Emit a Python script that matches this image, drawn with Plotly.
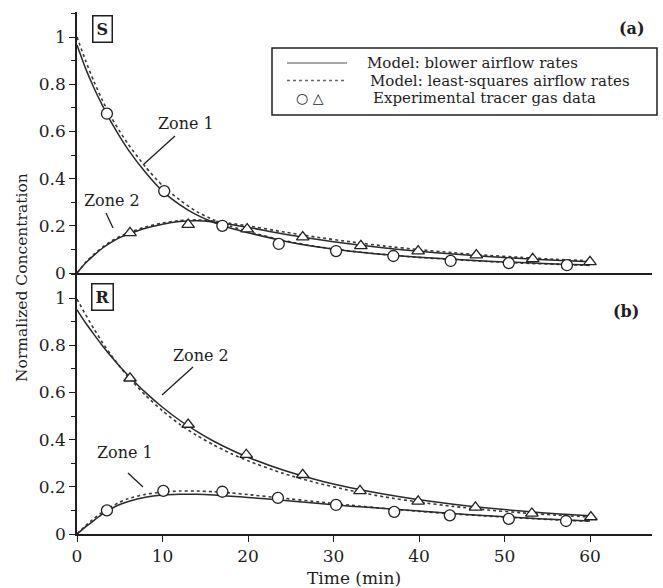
import plotly.graph_objects as go

# ---------------- data ----------------
t_model = [0, 1, 2, 3, 4, 5, 6, 8, 10, 12, 14, 16, 18, 20, 24, 28, 32, 36, 40, 44, 48, 52, 56, 60]

# Panel (a) "S"
a_zone1_blower = [0.966, 0.867, 0.783, 0.708, 0.639, 0.578, 0.522, 0.427, 0.347, 0.29, 0.246, 0.214, 0.19, 0.171,
                  0.137, 0.111, 0.092, 0.078, 0.067, 0.058, 0.05, 0.044, 0.038, 0.034]
a_zone1_lsq = [1.0, 0.9, 0.81, 0.73, 0.66, 0.6, 0.545, 0.45, 0.37, 0.31, 0.26, 0.225, 0.198, 0.176,
               0.139, 0.112, 0.093, 0.078, 0.066, 0.057, 0.049, 0.042, 0.037, 0.032]
a_zone2_blower = [0.0, 0.042, 0.076, 0.106, 0.13, 0.15, 0.165, 0.19, 0.207, 0.218, 0.221, 0.216, 0.206, 0.194,
                  0.166, 0.143, 0.123, 0.106, 0.092, 0.08, 0.07, 0.061, 0.054, 0.048]
a_zone2_lsq = [0.0, 0.045, 0.08, 0.11, 0.135, 0.155, 0.17, 0.195, 0.212, 0.222, 0.225, 0.22, 0.21, 0.2,
               0.175, 0.152, 0.132, 0.114, 0.099, 0.086, 0.075, 0.066, 0.058, 0.052]
a_zone1_t = [3.5, 10.2, 17.0, 23.6, 30.3, 37.0, 43.7, 50.5, 57.3]
a_zone1_obs = [0.675, 0.347, 0.20, 0.123, 0.093, 0.072, 0.051, 0.042, 0.033]
a_zone2_t = [6.2, 13.0, 19.9, 26.4, 33.2, 39.9, 46.7, 53.3, 60.0]
a_zone2_obs = [0.17, 0.205, 0.186, 0.152, 0.115, 0.093, 0.076, 0.06, 0.047]

# Panel (b) "R"
b_zone2_blower = [0.95, 0.895, 0.845, 0.797, 0.752, 0.71, 0.672, 0.6, 0.537, 0.482, 0.435, 0.393, 0.357, 0.325,
                  0.272, 0.23, 0.196, 0.168, 0.145, 0.126, 0.11, 0.097, 0.086, 0.077]
b_zone2_lsq = [0.995, 0.93, 0.868, 0.81, 0.758, 0.71, 0.665, 0.588, 0.522, 0.465, 0.418, 0.377, 0.341, 0.31,
               0.258, 0.217, 0.184, 0.157, 0.135, 0.117, 0.102, 0.09, 0.08, 0.072]
b_zone1_blower = [0.0, 0.03, 0.058, 0.085, 0.107, 0.125, 0.138, 0.156, 0.165, 0.168, 0.168, 0.165, 0.16, 0.155,
                  0.143, 0.13, 0.118, 0.108, 0.097, 0.087, 0.077, 0.069, 0.061, 0.055]
b_zone1_lsq = [0.0, 0.035, 0.066, 0.093, 0.116, 0.135, 0.15, 0.168, 0.178, 0.182, 0.182, 0.179, 0.174, 0.167,
               0.152, 0.137, 0.122, 0.108, 0.096, 0.085, 0.076, 0.068, 0.06, 0.054]
b_zone2_t = [6.2, 13.0, 19.8, 26.4, 33.1, 39.9, 46.6, 53.2, 60.1]
b_zone2_obs = [0.66, 0.464, 0.336, 0.251, 0.183, 0.138, 0.113, 0.087, 0.072]
b_zone1_t = [3.5, 10.1, 17.0, 23.5, 30.3, 37.1, 43.6, 50.5, 57.2]
b_zone1_obs = [0.10, 0.183, 0.179, 0.153, 0.123, 0.094, 0.079, 0.064, 0.055]

x_ticks = [0, 10, 20, 30, 40, 50, 60]
legend_lines = ["Model: blower airflow rates", "Model: least-squares airflow rates", "Experimental tracer gas data"]

# ---------------- styling ----------------
FONT = "DejaVu Serif"
INK = "#1e1e1e"
SOLID = dict(color="#2a2a2a", width=1.5, shape="spline", smoothing=0.6)
DOT = dict(color="#3a3a3a", width=1.6, dash="dot", shape="spline", smoothing=0.6)
CIRC = dict(symbol="circle", size=11, color="white", line=dict(color="#222", width=1.3))
TRI = dict(symbol="triangle-up", size=11, color="white", line=dict(color="#222", width=1.3))

fig = go.Figure()

def add_panel(xa, ya, curves, markers):
    for y, style in curves:
        fig.add_trace(go.Scatter(x=t_model, y=y, mode="lines", line=style,
                                 xaxis=xa, yaxis=ya, showlegend=False, hoverinfo="skip"))
    for tx, ty, m in markers:
        fig.add_trace(go.Scatter(x=tx, y=ty, mode="markers", marker=m,
                                 xaxis=xa, yaxis=ya, showlegend=False))

add_panel("x", "y",
          [(a_zone1_lsq, DOT), (a_zone1_blower, SOLID), (a_zone2_lsq, DOT), (a_zone2_blower, SOLID)],
          [(a_zone1_t, a_zone1_obs, CIRC), (a_zone2_t, a_zone2_obs, TRI)])
add_panel("x2", "y2",
          [(b_zone2_lsq, DOT), (b_zone2_blower, SOLID), (b_zone1_lsq, DOT), (b_zone1_blower, SOLID)],
          [(b_zone2_t, b_zone2_obs, TRI), (b_zone1_t, b_zone1_obs, CIRC)])

W, H = 663, 588
L, R, T, B = 77, 11, 12, 54
PW, PH = W - L - R, H - T - B

def px(x):
    return (x - L) / PW

def py(y):
    return 1 - (y - T) / PH

XR = [0, 67.25]
YR = [0, 1.106]
yaxis_common = dict(range=YR, showline=True, linecolor=INK, linewidth=1.5, ticks="outside", ticklen=6,
                    tickwidth=1.3, tickcolor=INK, tick0=0, dtick=0.2, showgrid=False, zeroline=False,
                    minor=dict(ticks="outside", ticklen=4, tickwidth=1, tickcolor=INK, dtick=0.1, tick0=0),
                    tickfont=dict(family=FONT, size=17, color=INK))

layout = dict(
    width=W, height=H, margin=dict(l=L, r=R, t=T, b=B),
    paper_bgcolor="white", plot_bgcolor="white",
    font=dict(family=FONT, color=INK),
    xaxis=dict(domain=[0, 1], range=XR, anchor="y", showline=True, linecolor=INK, linewidth=1.5,
               ticks="", showticklabels=False, showgrid=False, zeroline=False),
    xaxis2=dict(domain=[0, 1], range=XR, anchor="y2", showline=True, linecolor=INK, linewidth=1.5,
                ticks="outside", ticklen=6, tickwidth=1.3, tickcolor=INK, tickvals=x_ticks,
                showgrid=False, zeroline=False, tickfont=dict(family=FONT, size=17, color=INK)),
    yaxis=dict(domain=[0.5, 1], anchor="x", **yaxis_common),
    yaxis2=dict(domain=[0, 0.5], anchor="x2", **yaxis_common),
)
fig.update_layout(**layout)

ann = []
shapes = []

def text(x, y, s, size=16, **kw):
    d = dict(x=px(x), y=py(y), xref="paper", yref="paper", text=s, showarrow=False,
             xanchor="center", yanchor="middle",
             font=dict(family=FONT, size=size, color=INK))
    d.update(kw)
    ann.append(d)

def seg(x0, y0, x1, y1, w=1.3, dash=None, color=INK):
    ln = dict(color=color, width=w)
    if dash:
        ln["dash"] = dash
    shapes.append(dict(type="line", xref="paper", yref="paper", x0=px(x0), y0=py(y0), x1=px(x1), y1=py(y1),
                       line=ln))

# panel tags
text(102, 29, "<b>S</b>", size=16, bordercolor=INK, borderwidth=1.5, borderpad=3)
text(102, 297, "<b>R</b>", size=16, bordercolor=INK, borderwidth=1.5, borderpad=3)
text(632, 28, "<b>(a)</b>", size=16)
text(626, 311, "<b>(b)</b>", size=16)

# zone labels and leaders
text(186, 123, "Zone 1")
seg(175, 136, 144, 164)
text(112, 201, "Zone 2")
seg(106, 213, 113, 228)
text(201, 355, "Zone 2")
seg(193, 367, 162, 395)
text(125, 452, "Zone 1")
seg(128, 473, 143, 487)

# axis titles
text(354, 578, "Time (min)", size=17)
text(22, 278, "Normalized Concentration", size=15.5, textangle=-90)

# legend box
shapes.append(dict(type="rect", xref="paper", yref="paper", x0=px(272), x1=px(657), y0=py(48), y1=py(115),
                   line=dict(color=INK, width=1.5), fillcolor="white", layer="below"))
seg(287, 63, 347, 63, w=1.3, color="#888")
seg(287, 80.5, 347, 80.5, w=1.5, dash="dot", color="#666")
text(310, 98, "○ △", size=14)
for (lx, ly), s in zip([(365, 63), (368, 80.5), (371, 98)], legend_lines):
    text(lx, ly, s, size=15, xanchor="left")

fig.update_layout(annotations=ann, shapes=shapes)
fig.write_html("out.html")
